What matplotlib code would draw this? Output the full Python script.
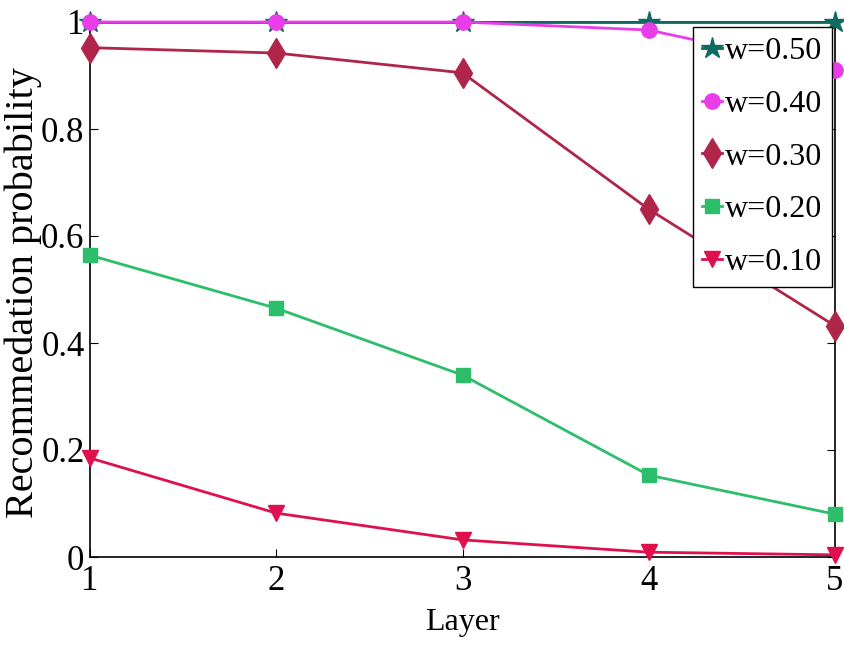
import matplotlib
matplotlib.use("Agg")
import matplotlib.pyplot as plt

plt.rcParams['font.family'] = ['Liberation Serif', 'DejaVu Serif']
plt.rcParams['mathtext.fontset'] = 'stix'

layers = [1, 2, 3, 4, 5]
w050 = [1.0, 1.0, 1.0, 1.0, 1.0]
w040 = [1.0, 1.0, 1.0, 0.985, 0.91]
w030 = [0.952, 0.942, 0.905, 0.650, 0.432]
w020 = [0.564, 0.465, 0.340, 0.153, 0.080]
w010 = [0.185, 0.082, 0.032, 0.009, 0.004]
labels = ['w=0.50', 'w=0.40', 'w=0.30', 'w=0.20', 'w=0.10']
xticks = [1, 2, 3, 4, 5]
yticks = [0, 0.2, 0.4, 0.6, 0.8, 1.0]
yticklabels = ['0', '0.2', '0.4', '0.6', '0.8', '1']

fig = plt.figure(figsize=(8.44, 6.46), dpi=100)
ax = fig.add_axes([90/844, 89/646, 745/844, 535/646])

series = [
    (w050, '#0d6b5f', '*', 16),
    (w040, '#e83de8', 'o', 11),
    (w030, '#b0264a', 'd', 15),
    (w020, '#2dbe6c', 's', 10),
    (w010, '#e0104f', 'v', 12),
]
handles = []
for (vals, col, mk, ms), lab in zip(series, labels):
    h, = ax.plot(layers, vals, color=col, marker=mk, markersize=ms, lw=2.0,
                 markeredgecolor=col, clip_on=False, label=lab, zorder=3)
    handles.append(h)

ax.set_xlim(1, 5)
ax.set_ylim(0, 1)
ax.set_xticks(xticks)
ax.set_xticklabels([str(t) for t in xticks])
ax.set_yticks(yticks)
ax.set_yticklabels(yticklabels)
ax.tick_params(direction='in', length=6, width=0.8, labelsize=25, pad=4,
               top=True, right=True, colors='black')
ax.tick_params(axis='x', pad=6)
for s in ax.spines.values():
    s.set_linewidth(1.2)

ax.set_xlabel('Layer', fontsize=23)
ax.xaxis.set_label_coords(0.5, -0.095)
ax.set_ylabel('Recommedation probability', fontsize=29)
ax.yaxis.set_label_coords(-0.064, 0.495)

leg = ax.legend(handles=handles, loc='upper right', bbox_to_anchor=(0.9955, 0.99),
                fontsize=23, frameon=True, fancybox=False, framealpha=1,
                edgecolor='black', handlelength=0.6, handletextpad=0.1,
                borderpad=0.3, labelspacing=0.73, borderaxespad=0)
leg.get_frame().set_linewidth(1.0)
leg.set_zorder(5)

fig.savefig('out.png', dpi=100)
